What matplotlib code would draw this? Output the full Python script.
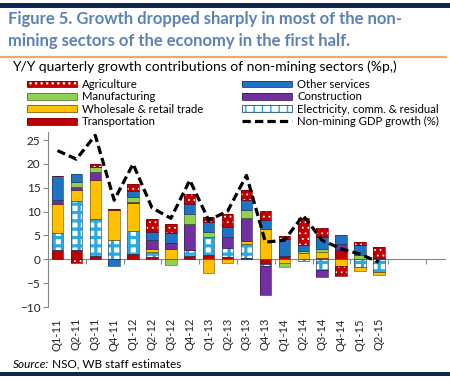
import matplotlib
matplotlib.use('Agg')
import matplotlib.pyplot as plt
import numpy as np
from matplotlib.patches import Rectangle, Patch
from matplotlib.lines import Line2D
from matplotlib.legend_handler import HandlerTuple

plt.rcParams['font.family'] = ['Lato', 'DejaVu Sans']

# ---------------- data ----------------
quarters = ['Q1-11', 'Q2-11', 'Q3-11', 'Q4-11', 'Q1-12', 'Q2-12', 'Q3-12', 'Q4-12',
            'Q1-13', 'Q2-13', 'Q3-13', 'Q4-13', 'Q1-14', 'Q2-14', 'Q3-14', 'Q4-14',
            'Q1-15', 'Q2-15']
tick_labels = quarters + ['', '', '']

transportation = [1.9, 1.9, 0.6, 0.0, 1.1, 0.4, 0.0, 0.8, 1.0, 0.4, 0.3, -0.9, 0.6, 0.0, 0.35, 2.0, 0.0, 0.0]
electricity    = [3.6, 10.3, 7.9, 4.0, 4.9, 1.1, 0.0, 1.1, 3.7, 1.9, 3.0, -0.5, 0.0, -0.4, -2.3, 0.0, -1.6, -2.6]
wholesale      = [6.2, 2.3, 8.2, 6.3, 5.9, 0.7, 2.1, 0.0, -2.8, -0.8, 0.5, 6.4, -0.7, 1.4, 1.15, -1.5, -0.9, -0.7]
construction   = [0.7, 0.7, 1.6, 0.0, 0.2, 1.8, 1.4, 5.6, 0.0, 2.3, 4.9, -6.0, 0.0, 0.0, -1.4, 1.3, 0.0, 0.0]
manufacturing  = [0.0, 1.0, 1.0, 0.0, 0.9, 0.0, -1.1, 2.1, 1.0, 0.0, 1.7, 0.0, -0.9, 0.3, 0.6, 0.0, 1.0, 0.0]
other_services = [5.0, 1.6, 0.0, -1.3, 1.4, 1.7, 2.1, 2.1, 2.1, 2.1, 2.0, 1.8, 3.7, 1.2, 2.6, 1.7, 1.9, 0.3]
agriculture    = [0.0, -0.7, 0.7, 0.35, 1.4, 2.8, 1.8, 1.9, 1.1, 2.9, 2.2, 1.9, 0.5, 5.8, 1.9, -2.0, 0.7, 2.3]
gdp_growth     = [22.8, 21.0, 26.0, 12.4, 20.0, 10.8, 8.6, 16.6, 8.2, 10.1, 17.6, 3.6, 4.0, 9.2, 4.0, 2.2, 1.1, -0.6]

# ---------------- styles ----------------
# (label, values, face, hatch colour, hatch, hatch lw, outline)
series = [
    ('Transportation', transportation, '#c00000', '#c00000', None, 0, '#7a0000'),
    ('Electricity, comm. & residual', electricity, 'white', '#29a9e1', '++', 2.3, '#1f4e79'),
    ('Wholesale & retail trade', wholesale, '#ffc000', '#ffc000', None, 0, '#7f6000'),
    ('Construction', construction, '#7030a0', '#7030a0', None, 0, '#3c1a56'),
    ('Manufacturing', manufacturing, '#92d050', '#92d050', None, 0, '#4f7a2a'),
    ('Other services', other_services, '#1f72c4', '#1f72c4', None, 0, '#123f6b'),
    ('Agriculture', agriculture, '#c00000', 'white', '...', 0.6, '#7a0000'),
]

W, H = 450, 380
def fx(px):
    return px / W
def fy(py):
    return 1 - py / H

fig = plt.figure(figsize=(4.5, 3.8), dpi=100)

ax = fig.add_axes([fx(48), fy(307), fx(445) - fx(48), fy(132) - fy(307)])
n = len(quarters)
x = np.arange(n)
width = 0.6

pos_bottom = np.zeros(n)
neg_bottom = np.zeros(n)
handles = {}
for label, vals, face, hcol, hatch, hlw, outline in series:
    v = np.array(vals, dtype=float)
    bottom = np.where(v >= 0, pos_bottom, neg_bottom)
    bars = ax.bar(x, v, width, bottom=bottom, facecolor=face, edgecolor=hcol,
                  hatch=hatch, linewidth=0, zorder=2)
    if hatch is not None:
        for b in bars:
            if hasattr(b, 'set_hatch_linewidth'):
                b.set_hatch_linewidth(hlw)
    ax.bar(x, v, width, bottom=bottom, fill=False, edgecolor=outline,
           linewidth=0.5, zorder=3)
    pos_bottom += np.where(v > 0, v, 0)
    neg_bottom += np.where(v < 0, v, 0)
    p1 = Patch(facecolor=face, edgecolor=hcol, hatch=hatch, linewidth=0)
    if hatch is not None and hasattr(p1, 'set_hatch_linewidth'):
        p1.set_hatch_linewidth(hlw)
    p2 = Patch(fill=False, edgecolor=outline, linewidth=0.6)
    handles[label] = (p1, p2)

line_style = dict(color='black', lw=2.3, ls=(0, (2.6, 1.3)))
ax.plot(x, gdp_growth, zorder=5, **line_style)
handles['Non-mining GDP growth (%)'] = Line2D([], [], **line_style)

ax.set_xlim(-0.5, len(tick_labels) - 0.5)
ax.set_ylim(-10, 26.7)
ax.set_yticks(np.arange(-10, 26, 5))
ax.tick_params(axis='y', direction='out', length=3.5, color='#868686', width=0.8,
               labelsize=8.5, labelcolor='#222222', pad=2)
ax.set_xticks(np.arange(len(tick_labels)))
ax.set_xticklabels(tick_labels, rotation=90, fontsize=8, color='#222222')
ax.tick_params(axis='x', length=0, pad=8)
for s in ['top', 'right', 'bottom']:
    ax.spines[s].set_visible(False)
ax.spines['left'].set_color('#868686')
ax.spines['left'].set_linewidth(0.8)

sec = ax.secondary_xaxis(0, transform=ax.transData)
sec.set_xticks(np.arange(1.5, len(tick_labels) - 0.5, 2))
sec.tick_params(axis='x', direction='out', length=3.5, color='#868686', width=0.8,
                labelbottom=False)
sec.spines['bottom'].set_color('#868686')
sec.spines['bottom'].set_linewidth(0.8)

# ---------------- legend ----------------
col1 = ['Agriculture', 'Manufacturing', 'Wholesale & retail trade', 'Transportation']
col2 = ['Other services', 'Construction', 'Electricity, comm. & residual', 'Non-mining GDP growth (%)']
for names, left in [(col1, 27), (col2, 242)]:
    fig.legend([handles[k] for k in names], names, loc='upper left',
               bbox_to_anchor=(fx(left), fy(79)), frameon=False, fontsize=8.2,
               borderpad=0, borderaxespad=0, handlelength=4.4, handleheight=0.55,
               handletextpad=0.45, labelspacing=0.12,
               handler_map={tuple: HandlerTuple(ndivide=1, pad=0)})

# ---------------- texts & decorations ----------------
navy = '#10244f'
fig.add_artist(Rectangle((0, fy(8)), 1, fy(3) - fy(8), transform=fig.transFigure,
                         facecolor=navy, edgecolor='none'))
fig.add_artist(Rectangle((0, fy(376)), 1, fy(372) - fy(376), transform=fig.transFigure,
                         facecolor=navy, edgecolor='none'))
fig.add_artist(Line2D([0, fx(446)], [fy(57), fy(57)], transform=fig.transFigure,
                      color='#f2a66c', lw=1.6))

title_col = '#5b82b5'
fig.text(fx(8), fy(19), 'Figure 5. Growth dropped sharply in most of the non-',
         fontsize=12, weight='bold', color=title_col, va='center', ha='left')
fig.text(fx(8), fy(41), 'mining sectors of the economy in the first half.',
         fontsize=12, weight='bold', color=title_col, va='center', ha='left')
fig.text(fx(12), fy(67), 'Y/Y quarterly growth contributions of non-mining sectors (%p,)',
         fontsize=10, color='black', va='center', ha='left')

src = fig.text(fx(13), fy(364), 'Source:', fontsize=8.5, style='italic',
               va='center', ha='left', color='black')
fig.add_artist(matplotlib.text.Annotation(' NSO, WB staff estimates', xy=(1, 0.5),
               xycoords=src, va='center', ha='left', fontsize=8.5, color='black'))

fig.savefig('out.png', dpi=100)
